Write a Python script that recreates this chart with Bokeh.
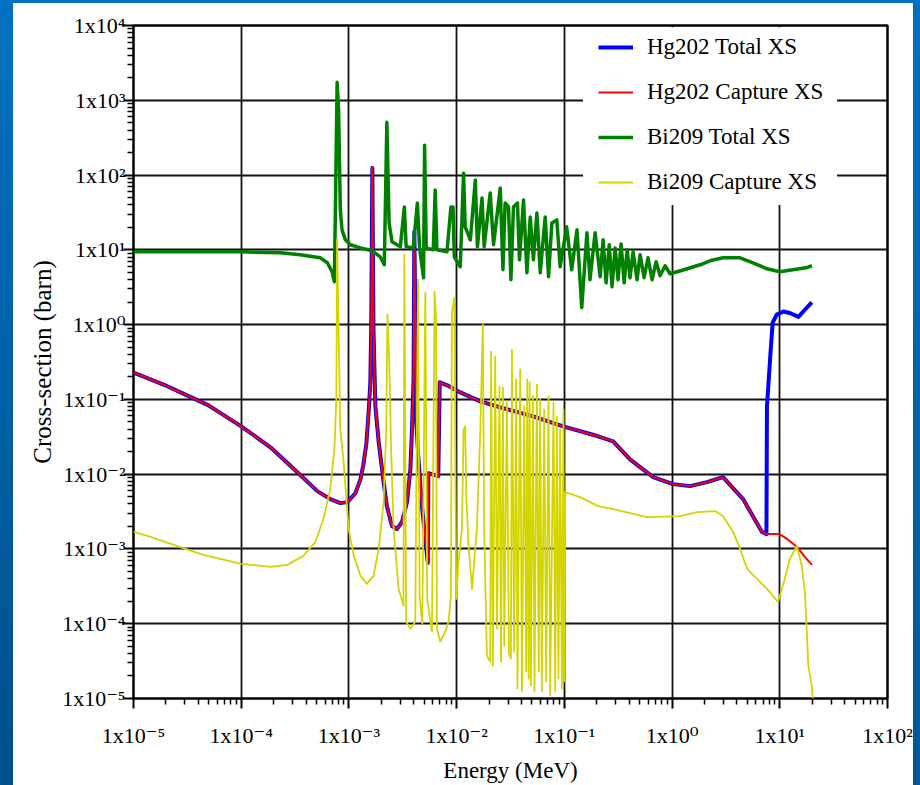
from bokeh.plotting import figure
from bokeh.models import FixedTicker, Legend, LegendItem, BoxAnnotation
from bokeh.embed import file_html
from bokeh.resources import INLINE

# ---------------- data (energy in MeV, cross-section in barn) ----------------
hg202_total_e = [1.00e-5, 1.90e-5, 3.61e-5, 4.97e-5, 1.00e-4, 1.87e-4, 3.32e-4, 5.09e-4, 6.71e-4, 8.32e-4,
                 9.66e-4, 1.15e-3, 1.28e-3, 1.36e-3, 1.45e-3, 1.53e-3, 1.58e-3, 1.61e-3, 1.65e-3, 1.69e-3,
                 1.76e-3, 1.89e-3, 2.10e-3, 2.25e-3, 2.51e-3, 2.79e-3, 3.11e-3, 3.46e-3, 3.72e-3, 3.85e-3,
                 3.98e-3, 4.05e-3, 4.22e-3, 4.44e-3, 4.76e-3, 5.12e-3, 5.40e-3, 5.46e-3, 6.75e-3, 6.97e-3,
                 8.19e-3, 0.0108, 0.0166, 0.0254, 0.0514, 0.0975, 0.206, 0.284, 0.407, 0.667,
                 1.02, 1.47, 2.11, 2.97, 4.56, 6.84, 7.52,
                 7.60, 8.24, 8.59, 9.36, 10.8, 12.4, 14.9, 17.1, 19.8]
hg202_total_xs = [0.229, 0.158, 0.103, 0.0832, 0.0436, 0.0229, 0.01063, 5.93e-3, 4.64e-3, 4.10e-3,
                  4.23e-3, 5.58e-3, 8.58e-3, 0.0132, 0.0251, 0.0736, 0.169, 0.858, 124.0, 0.86,
                  0.0807, 0.0267, 7.82e-3, 3.74e-3, 2.03e-3, 1.85e-3, 2.29e-3, 4.23e-3, 0.0117, 0.0398,
                  0.185, 17.4, 0.0494, 0.0145, 3.74e-3, 1.36e-3, 6.51e-4, 0.0103, 9.40e-3, 0.169,
                  0.154, 0.124, 0.094, 0.0782, 0.0593, 0.0436, 0.0321, 0.0275, 0.0158, 9.12e-3,
                  7.36e-3, 6.92e-3, 7.82e-3, 9.12e-3, 4.64e-3, 1.69e-3, 1.58e-3,
                  0.0807, 0.464, 1.06, 1.36, 1.50, 1.43, 1.27, 1.58, 1.98]

hg202_capture_e = [1.00e-5, 1.90e-5, 3.61e-5, 4.97e-5, 1.00e-4, 1.87e-4, 3.32e-4, 5.09e-4, 6.71e-4, 8.32e-4,
                   9.66e-4, 1.15e-3, 1.28e-3, 1.36e-3, 1.45e-3, 1.53e-3, 1.58e-3, 1.61e-3, 1.65e-3, 1.69e-3,
                   1.76e-3, 1.89e-3, 2.10e-3, 2.25e-3, 2.51e-3, 2.79e-3, 3.11e-3, 3.46e-3, 3.72e-3, 3.85e-3,
                   3.98e-3, 4.05e-3, 4.22e-3, 4.44e-3, 4.76e-3, 5.12e-3, 5.40e-3, 5.46e-3, 6.75e-3, 6.97e-3,
                   8.19e-3, 0.0108, 0.0166, 0.0254, 0.0514, 0.0975, 0.206, 0.284, 0.407, 0.667,
                   1.02, 1.47, 2.11, 2.97, 4.56, 6.84, 7.52,
                   9.89, 11.7, 14.5, 17.1, 19.9]
hg202_capture_xs = [0.229, 0.158, 0.103, 0.0832, 0.0436, 0.0229, 0.01063, 5.93e-3, 4.64e-3, 4.10e-3,
                    4.23e-3, 5.58e-3, 8.58e-3, 0.0132, 0.0251, 0.0736, 0.169, 0.858, 124.0, 0.86,
                    0.0807, 0.0267, 7.82e-3, 3.74e-3, 2.03e-3, 1.85e-3, 2.29e-3, 4.23e-3, 0.0117, 0.0398,
                    0.185, 17.4, 0.0494, 0.0145, 3.74e-3, 1.36e-3, 6.51e-4, 0.0103, 9.40e-3, 0.169,
                    0.154, 0.124, 0.094, 0.0782, 0.0593, 0.0436, 0.0321, 0.0275, 0.0158, 9.12e-3,
                    7.36e-3, 6.92e-3, 7.82e-3, 9.12e-3, 4.64e-3, 1.69e-3, 1.58e-3,
                    1.58e-3, 1.36e-3, 1.06e-3, 7.82e-4, 6.12e-4]

bi209_total_e = [1.00e-5, 1.00e-4, 2.31e-4, 3.54e-4, 4.68e-4, 5.43e-4, 6.31e-4, 6.97e-4, 7.33e-4, 7.77e-4,
                 8.02e-4, 8.32e-4, 8.63e-4, 9.27e-4, 1.03e-3, 1.28e-3, 1.65e-3, 1.95e-3, 2.13e-3, 2.25e-3,
                 2.36e-3, 2.51e-3, 3.00e-3, 3.27e-3, 3.40e-3, 3.95e-3, 4.32e-3, 4.53e-3, 4.93e-3, 5.04e-3,
                 5.22e-3, 6.07e-3, 6.32e-3, 6.56e-3, 8.13e-3, 8.85e-3, 9.25e-3, 9.51e-3, 0.0108, 0.0116,
                 0.0120, 0.0134, 0.0149, 0.0156, 0.0172, 0.0180, 0.0205, 0.0220, 0.0254, 0.0269,
                 0.0282, 0.0303, 0.0319, 0.0337, 0.0367, 0.0383, 0.0418, 0.0449, 0.0482, 0.0516,
                 0.0556, 0.0597, 0.0664, 0.0713, 0.0766, 0.0851, 0.0914, 0.105, 0.117, 0.131,
                 0.145, 0.162, 0.173, 0.193, 0.215, 0.229, 0.244, 0.261, 0.277, 0.296,
                 0.315, 0.336, 0.359, 0.383, 0.407, 0.435, 0.473, 0.505, 0.550, 0.598,
                 0.652, 0.711, 0.774, 0.861, 0.957, 1.29, 1.82, 2.25, 2.97, 4.28,
                 5.64, 7.60, 10.0, 13.2, 17.5, 19.9]
bi209_total_xs = [9.40, 9.40, 9.12, 8.58, 8.07, 7.82, 6.71, 5.09, 3.74, 1740.0,
                  736.0, 34.1, 18.5, 13.6, 11.7, 10.6, 9.70, 8.07, 6.31, 509.0,
                  22.9, 12.8, 11.0, 37.4, 11.0, 10.6, 42.3, 10.6, 4.23, 251.0,
                  10.6, 10.0, 63.1, 10.0, 9.40, 37.4, 37.4, 8.07, 5.93, 106.0,
                  20.3, 13.6, 85.8, 11.0, 49.4, 11.0, 57.5, 11.7, 67.1, 5.41,
                  42.3, 37.4, 3.98, 37.4, 42.3, 7.36, 46.4, 4.94, 27.5, 7.36,
                  31.1, 4.94, 27.5, 4.37, 22.9, 25.1, 5.93, 20.3, 5.41, 18.5,
                  1.69, 16.9, 3.98, 16.9, 4.37, 13.6, 3.63, 11.7, 3.21, 10.6,
                  3.98, 12.0, 3.63, 10.0, 4.23, 9.40, 3.98, 8.58, 4.23, 7.82,
                  3.98, 6.92, 4.50, 6.12, 4.79, 5.41, 6.31, 7.13, 7.82, 7.82,
                  6.71, 5.58, 5.09, 5.41, 5.75, 6.12]

bi209_capture_e = [1.00e-5, 1.44e-5, 2.73e-5, 4.45e-5, 1.00e-4, 1.87e-4, 2.68e-4, 3.78e-4, 4.88e-4, 5.79e-4,
                   6.71e-4, 7.33e-4, 7.64e-4, 7.77e-4, 8.02e-4, 8.32e-4, 8.93e-4, 9.93e-4, 1.11e-3, 1.28e-3,
                   1.47e-3, 1.69e-3, 1.89e-3, 2.10e-3, 2.22e-3, 2.28e-3, 2.37e-3, 2.46e-3, 2.60e-3, 2.89e-3,
                   3.21e-3, 3.27e-3, 3.40e-3, 3.72e-3, 4.13e-3, 4.38e-3, 4.53e-3, 4.80e-3, 5.12e-3, 5.33e-3,
                   5.90e-3, 6.24e-3, 6.43e-3, 6.56e-3, 7.05e-3, 7.83e-3, 8.41e-3, 8.85e-3, 9.03e-3, 9.51e-3,
                   9.91e-3, 0.0104, 0.0112, 0.0116, 0.0120, 0.0123, 0.0129, 0.0139, 0.0154, 0.0166,
                   0.0175, 0.0180, 0.0191, 0.0205, 0.0209, 0.0217, 0.0228, 0.0237, 0.0250, 0.0258,
                   0.0269, 0.0277, 0.0293, 0.0306, 0.0319, 0.0326, 0.0342, 0.0357, 0.0367, 0.0389,
                   0.0404, 0.0424, 0.0443, 0.0452, 0.0467, 0.0476, 0.0489, 0.0511, 0.0528, 0.0556,
                   0.0579, 0.0597, 0.0618, 0.0650, 0.0678, 0.0713, 0.0738, 0.0793, 0.0822, 0.0851,
                   0.0881, 0.0914, 0.0948, 0.0982, 0.0995, 0.102, 0.140, 0.206, 0.284, 0.586,
                   1.19, 1.71, 2.51, 2.97, 3.68, 4.28, 4.97, 6.14, 7.60, 8.65,
                   9.62, 10.7, 12.4, 14.4, 16.0, 17.1, 17.7, 18.4, 19.8, 20.2]
bi209_capture_xs = [1.69e-3, 1.45e-3, 1.06e-3, 8.32e-4, 6.31e-4, 5.75e-4, 6.12e-4, 8.07e-4, 1.24e-3, 2.51e-3,
                    6.31e-3, 0.0215, 0.100, 13.6, 0.858, 0.0398, 0.0145, 1.85e-3, 8.07e-4, 4.37e-4,
                    3.41e-4, 4.37e-4, 1.00e-3, 4.23e-3, 0.0398, 1.36, 0.311, 0.0236, 1.85e-3, 2.93e-4,
                    1.74e-4, 8.58, 1.06e-4, 8.58e-5, 1.06e-4, 3.98, 2.36e-4, 1.00e-4, 2.67, 2.15e-4,
                    7.82e-5, 2.75, 1.28, 8.58e-5, 5.75e-5, 7.82e-5, 1.06e-4, 2.36e-4, 1.45, 2.29,
                    2.15e-4, 6.71e-4, 1.85e-3, 0.0398, 0.0436, 5.09e-3, 1.10e-3, 2.93e-4, 1.85e-3, 0.0398,
                    1.00, 1.85e-3, 3.74e-5, 3.11e-5, 0.436, 2.75e-5, 0.374, 8.58e-5, 0.149, 3.11e-5,
                    0.145, 5.09e-5, 0.0912, 3.98e-5, 3.41e-5, 0.464, 4.23e-5, 0.185, 1.36e-5, 0.251,
                    1.24e-5, 0.0807, 2.29e-5, 0.185, 1.85e-5, 0.169, 1.49e-5, 0.110, 1.24e-5, 0.158,
                    2.29e-5, 0.100, 1.24e-5, 0.0736, 1.69e-5, 0.110, 1.10e-5, 0.0912, 1.24e-5, 0.0593,
                    1.85e-5, 0.0398, 1.36e-5, 0.0736, 1.69e-5, 5.75e-3, 4.93e-3, 3.74e-3, 3.41e-3, 2.67e-3,
                    2.75e-3, 3.11e-3, 3.21e-3, 2.75e-3, 1.69e-3, 1.00e-3, 5.41e-4, 3.98e-4, 2.93e-4, 2.36e-4,
                    1.96e-4, 3.21e-4, 7.36e-4, 1.10e-3, 5.93e-4, 2.67e-4, 9.40e-5, 2.75e-5, 1.49e-5, 1.00e-5]

series_names = ["Hg202 Total XS", "Hg202 Capture XS", "Bi209 Total XS", "Bi209 Capture XS"]
x_tick_values = [1e-5, 1e-4, 1e-3, 1e-2, 1e-1, 1e0, 1e1, 1e2]
x_tick_labels = ["1x10\u207b\u2075", "1x10\u207b\u2074", "1x10\u207b\u00b3", "1x10\u207b\u00b2",
                 "1x10\u207b\u00b9", "1x10\u2070", "1x10\u00b9", "1x10\u00b2"]
y_tick_values = [1e-5, 1e-4, 1e-3, 1e-2, 1e-1, 1e0, 1e1, 1e2, 1e3, 1e4]
y_tick_labels = ["1x10\u207b\u2075", "1x10\u207b\u2074", "1x10\u207b\u00b3", "1x10\u207b\u00b2",
                 "1x10\u207b\u00b9", "1x10\u2070", "1x10\u00b9", "1x10\u00b2", "1x10\u00b3", "1x10\u2074"]
x_title = "Energy (MeV)"
y_title = "Cross-section (barn)"

# ---------------- figure ----------------
FONT = "Liberation Serif, DejaVu Serif, serif"
p = figure(width=920, height=785, x_axis_type="log", y_axis_type="log",
           x_range=(1e-5, 1e2), y_range=(1e-5, 1e4),
           output_backend="svg", toolbar_location=None,
           min_border_left=133, min_border_right=33, min_border_top=25, min_border_bottom=85)
p.background_fill_color = "white"
p.border_fill_color = None
p.border_fill_alpha = 0
p.outline_line_color = "black"
p.outline_line_width = 2.5

x_minor = [m * t for t in x_tick_values[:-1] for m in range(2, 10)]
y_minor = [m * t for t in y_tick_values[:-1] for m in range(2, 10)]
xt = FixedTicker(ticks=x_tick_values, minor_ticks=x_minor)
yt = FixedTicker(ticks=y_tick_values, minor_ticks=y_minor)
p.xaxis.ticker = xt
p.yaxis.ticker = yt
p.xgrid.ticker = xt
p.ygrid.ticker = yt
p.xaxis.major_label_overrides = dict(zip(x_tick_values, x_tick_labels))
p.yaxis.major_label_overrides = dict(zip(y_tick_values, y_tick_labels))

for ax in (p.xaxis, p.yaxis):
    ax.axis_line_color = None
    ax.major_tick_line_color = "black"
    ax.major_tick_line_width = 2
    ax.major_tick_out = 10
    ax.major_tick_in = 0
    ax.minor_tick_line_color = "black"
    ax.minor_tick_line_width = 1.5
    ax.minor_tick_out = 6
    ax.minor_tick_in = 0
    ax.major_label_text_font = FONT
    ax.major_label_text_font_size = "22px"
    ax.major_label_text_color = "black"
    ax.axis_label_text_font = FONT
    ax.axis_label_text_font_style = "normal"
    ax.axis_label_text_color = "black"

p.xaxis.major_label_standoff = 14
p.xaxis.axis_label = x_title
p.xaxis.axis_label_text_font_size = "23px"
p.xaxis.axis_label_standoff = 7

p.yaxis.major_label_standoff = -2
p.yaxis.axis_label = y_title
p.yaxis.axis_label_text_font_size = "25px"
p.yaxis.axis_label_standoff = 3

p.grid.grid_line_color = "#111111"
p.grid.grid_line_width = 1.8

# white box behind legend (covers the grid)
p.add_layout(BoxAnnotation(left=0.149, right=34.0, bottom=39.8, top=9500,
                           fill_color="white", fill_alpha=1.0, line_color=None))

# ---------------- curves ----------------
r1 = p.line(hg202_total_e, hg202_total_xs, line_color="#0000ff", line_width=4, line_join="round")
r2 = p.line(hg202_capture_e, hg202_capture_xs, line_color="#ff0000", line_width=2, line_join="round")
r3 = p.line(bi209_total_e, bi209_total_xs, line_color="#008000", line_width=3.5, line_join="round")
r4 = p.line(bi209_capture_e, bi209_capture_xs, line_color="#d4d400", line_width=1.8, line_join="round")

legend = Legend(items=[LegendItem(label=n, renderers=[r]) for n, r in zip(series_names, [r1, r2, r3, r4])],
                location=(465, 501), orientation="vertical",
                glyph_width=35, glyph_height=30, label_height=30, label_standoff=14,
                spacing=15, padding=0, margin=0,
                label_text_font=FONT, label_text_font_size="23px", label_text_color="black",
                background_fill_alpha=0, border_line_alpha=0)
p.add_layout(legend)

# page background: blue edge strips as in the slide
CSS = """
html, body { margin: 0; padding: 0; overflow: hidden; }
html { background:
  linear-gradient(to bottom, #0072c2, #00508a) left top / 13px 100% no-repeat,
  linear-gradient(to bottom, #0070c0, #005896) right top / 7px 100% no-repeat,
  linear-gradient(#0070c0, #0070c0) left top / 100% 3px no-repeat,
  #ffffff; min-height: 100%; }
body { background: transparent; }
"""
try:
    from bokeh.models import GlobalInlineStyleSheet
    p.stylesheets = [GlobalInlineStyleSheet(css=CSS)]
except ImportError:
    pass

open("out.html", "w").write(file_html(p, INLINE))
